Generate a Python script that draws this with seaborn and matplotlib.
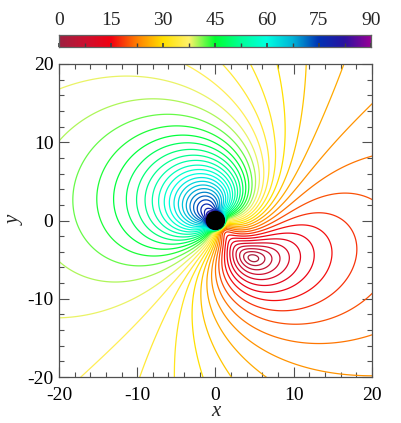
import numpy as np
import seaborn as sns
import matplotlib
matplotlib.use("Agg")
import matplotlib.pyplot as plt
from matplotlib.colors import LinearSegmentedColormap
from matplotlib.patches import Circle

sns.set_theme(style="white")
plt.rcParams["font.family"] = ["Liberation Serif", "DejaVu Serif"]
plt.rcParams["axes.unicode_minus"] = False

# colour bar stops (degrees -> colour)
cbar_values = [0, 7.5, 15, 22.5, 30, 37.5, 45, 52.5, 60, 67.5, 75, 82.5, 90]
cbar_colors = ["#9e2040", "#cc1030", "#f20010", "#ff8000", "#ffe000", "#fff26a",
               "#00ff30", "#00ff98", "#00ffe0", "#00b4d8", "#0032b4", "#2a12a0", "#960096"]
cbar_ticks = [0, 15, 30, 45, 60, 75, 90]
cbar_minor = [7.5, 22.5, 37.5, 52.5, 67.5, 82.5]

# contour levels (every 2 degrees) and axis ticks
levels = np.arange(0, 91, 2)
axis_ticks = [-20, -10, 0, 10, 20]

# field parameters
min_point = (4.8, -4.8)     # where the angle drops to 0
view_tilt = 30.0            # deg
tilt_far = 6.0              # deg, tilt of the field far out
tilt_amp = 44.66            # deg, extra tilt near the hole
tilt_scale = 7.33
twist_rate = 30.0           # deg per e-fold in radius, far out
twist_scale = 5.0           # radius where the twist switches on
hole_radius = 1.15
ring_start = 1.0
ring_width = 0.2


def angle_field(X, Y):
    R = np.hypot(X, Y)
    phi = np.arctan2(Y, X)
    r0 = np.hypot(*min_point)
    phi0 = np.arctan2(min_point[1], min_point[0])
    theta_v = np.radians(tilt_far + tilt_amp / (1 + (R / tilt_scale) ** 2))
    k = twist_rate * R ** 2 / (R ** 2 + twist_scale ** 2)
    psi = phi - np.radians(k) * np.log(np.maximum(R, 1e-3) / r0)
    td = np.radians(view_tilt)
    cosf = np.sin(theta_v) * np.sin(td) * np.cos(psi - phi0) + np.cos(theta_v) * np.cos(td)
    F = np.degrees(np.arccos(np.clip(cosf, -1, 1)))
    # everything turns to 90 at the edge of the hole
    w = 1 - np.exp(-np.clip(R - ring_start, 0, None) / ring_width)
    return 90 - (90 - F) * w


grid = np.linspace(-21, 21, 1001)
X, Y = np.meshgrid(grid, grid)
F = angle_field(X, Y)

cmap = LinearSegmentedColormap.from_list(
    "angle", list(zip(np.array(cbar_values) / 90.0, cbar_colors)))

fig = plt.figure(figsize=(4.01, 4.23), dpi=100)
ax = fig.add_axes([0.147, 0.1087, 0.7805, 0.740])
cax = fig.add_axes([0.147, 0.889, 0.778, 0.0284])

ax.contour(X, Y, F, levels=levels, cmap=cmap, vmin=0, vmax=90, linewidths=0.9)
ax.add_patch(Circle((0, 0), hole_radius, color="black", zorder=3))

ax.set_xlim(-20, 20)
ax.set_ylim(-20, 20)
ax.set_xticks(axis_ticks)
ax.set_yticks(axis_ticks)
ax.set_xticks(np.arange(-20, 21, 2), minor=True)
ax.set_yticks(np.arange(-20, 21, 2), minor=True)
ax.tick_params(which="both", direction="in", top=True, right=True, bottom=True, left=True,
               color="#505050", width=0.8, labelsize=14, labelcolor="black")
ax.tick_params(which="major", length=7)
ax.tick_params(which="minor", length=3.5)
ax.tick_params(axis="x", pad=7)
ax.tick_params(axis="y", pad=4)
for s in ax.spines.values():
    s.set_color("#505050")
    s.set_linewidth(0.9)
ax.set_xlabel("x", fontsize=15, style="italic", labelpad=-1)
ax.set_ylabel("y", fontsize=15, style="italic", labelpad=2)

gradient = np.linspace(0, 90, 512)[None, :]
cax.imshow(gradient, aspect="auto", cmap=cmap, extent=[0, 90, 0, 1], vmin=0, vmax=90)
cax.set_xlim(0, 90)
cax.set_yticks([])
cax.set_xticks(cbar_ticks)
cax.set_xticks(cbar_minor, minor=True)
cax.xaxis.tick_top()
cax.tick_params(which="both", axis="x", direction="in", top=False, bottom=True,
                labeltop=True, labelbottom=False, length=3, color="#404040",
                labelsize=14, pad=4)
for s in cax.spines.values():
    s.set_color("#606060")
    s.set_linewidth(0.9)

fig.savefig("out.png", dpi=100)
